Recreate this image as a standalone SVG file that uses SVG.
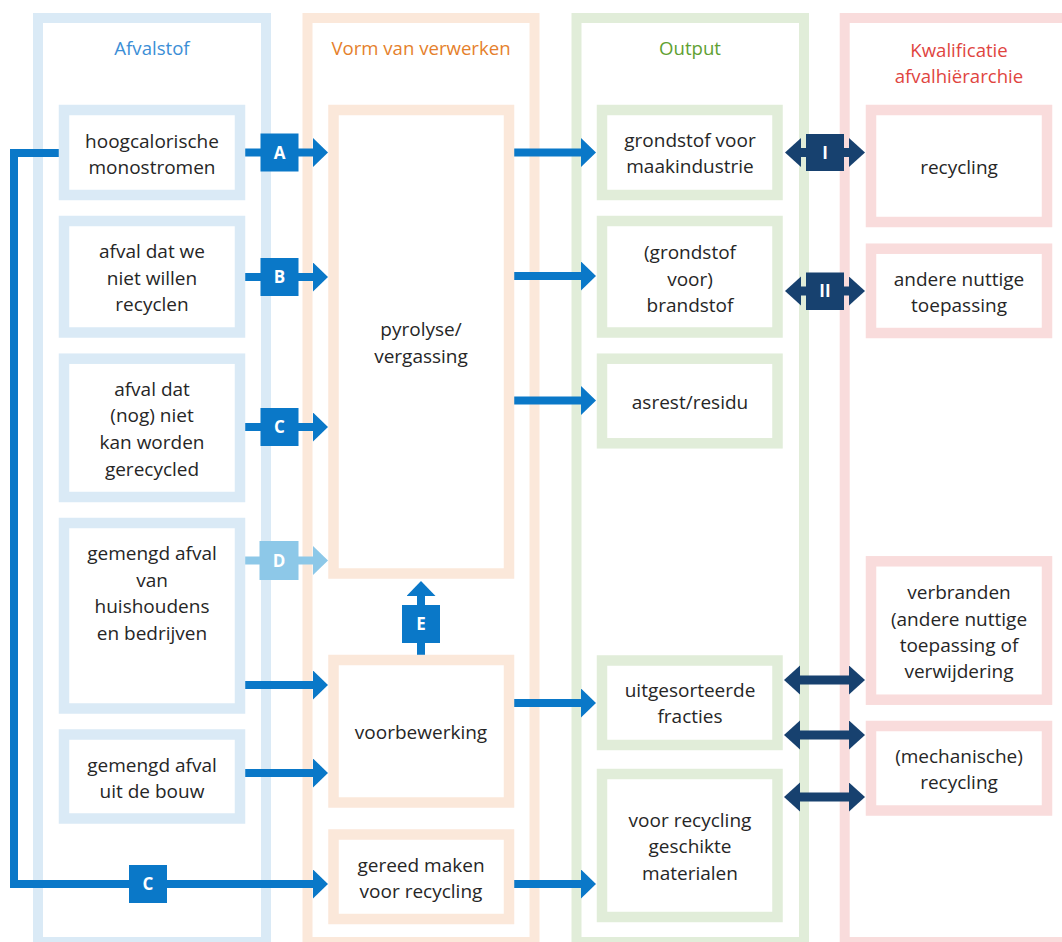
<svg xmlns="http://www.w3.org/2000/svg" width="1062" height="942" viewBox="0 0 1062 942">
<style>
.col{fill:none;stroke-width:10}
.cb{stroke:#daeaf6}.co{stroke:#fbe8da}.cg{stroke:#e1edd9}.cp{stroke:#f9dcdc}
.bx{fill:#fff;stroke-width:10.5}
.t{font-family:"Open Sans","Noto Sans","Liberation Sans",sans-serif;font-size:19px;fill:#262626;text-anchor:middle}
.h{font-family:"Open Sans","Noto Sans","Liberation Sans",sans-serif;font-size:18.6px;text-anchor:middle}
.lb{font-family:"Open Sans","Noto Sans","Liberation Sans",sans-serif;font-size:17px;font-weight:bold;fill:#fff;text-anchor:middle}
.ab{fill:none;stroke:#0a78c8;stroke-width:8}
.ad{fill:none;stroke:#8dc8e8;stroke-width:8}
.an{fill:none;stroke:#17416f;stroke-width:9}
</style>
<defs>
<marker id="hb" markerUnits="userSpaceOnUse" markerWidth="16" markerHeight="30" refX="1" refY="14.5" orient="auto"><path d="M0,0 L15,14.5 L0,29 Z" fill="#0a78c8"/></marker>
<marker id="hd" markerUnits="userSpaceOnUse" markerWidth="16" markerHeight="30" refX="1" refY="14.5" orient="auto"><path d="M0,0 L15,14.5 L0,29 Z" fill="#8dc8e8"/></marker>
<marker id="hn" markerUnits="userSpaceOnUse" markerWidth="17" markerHeight="30" refX="1" refY="14.5" orient="auto-start-reverse"><path d="M0,0 L16,14.5 L0,29 Z" fill="#17416f"/></marker>
</defs>

<g id="columns">
<rect class="col cb" x="38" y="18" width="228" height="924"/>
<rect class="col co" x="307.5" y="18" width="227" height="924"/>
<rect class="col cg" x="576.5" y="18" width="227.5" height="924"/>
<rect class="col cp" x="844.7" y="18" width="228" height="924"/>
<text class="h" x="152" y="55" fill="#3b8ed6">Afvalstof</text>
<text class="h" x="421" y="55" fill="#e57f2c">Vorm van verwerken</text>
<text class="h" x="690" y="55" fill="#5fa133">Output</text>
<text class="h" x="959" y="57" fill="#e0453f">Kwalificatie</text>
<text class="h" x="959" y="83" fill="#e0453f">afvalhiërarchie</text>
</g>

<g id="connectors">
<polyline class="ab" points="59,153 14,153 14,884 314,884" marker-end="url(#hb)"/>
<line class="ab" x1="245" y1="152.5" x2="314" y2="152.5" marker-end="url(#hb)"/>
<line class="ab" x1="245" y1="277" x2="314" y2="277" marker-end="url(#hb)"/>
<line class="ab" x1="245" y1="427" x2="314" y2="427" marker-end="url(#hb)"/>
<line class="ad" x1="245" y1="560.5" x2="314" y2="560.5" marker-end="url(#hd)"/>
<line class="ab" x1="245" y1="685" x2="314" y2="685" marker-end="url(#hb)"/>
<line class="ab" x1="245" y1="773" x2="314" y2="773" marker-end="url(#hb)"/>
<line class="ab" x1="421" y1="655" x2="421" y2="595" marker-end="url(#hb)"/>
<line class="ab" x1="514" y1="152.5" x2="582" y2="152.5" marker-end="url(#hb)"/>
<line class="ab" x1="514" y1="276" x2="582" y2="276" marker-end="url(#hb)"/>
<line class="ab" x1="514" y1="400.5" x2="582" y2="400.5" marker-end="url(#hb)"/>
<line class="ab" x1="514" y1="703" x2="582" y2="703" marker-end="url(#hb)"/>
<line class="ab" x1="514" y1="884" x2="582" y2="884" marker-end="url(#hb)"/>
<line class="an" x1="800" y1="152.5" x2="850" y2="152.5" marker-start="url(#hn)" marker-end="url(#hn)"/>
<line class="an" x1="800" y1="291" x2="850" y2="291" marker-start="url(#hn)" marker-end="url(#hn)"/>
<line class="an" x1="799" y1="680" x2="850" y2="680" marker-start="url(#hn)" marker-end="url(#hn)"/>
<line class="an" x1="799" y1="735" x2="850" y2="735" marker-start="url(#hn)" marker-end="url(#hn)"/>
<line class="an" x1="799" y1="797" x2="850" y2="797" marker-start="url(#hn)" marker-end="url(#hn)"/>
<rect x="260.5" y="133.5" width="38" height="38" fill="#0a78c8"/><text class="lb" x="279.5" y="158.5">A</text>
<rect x="260.5" y="258" width="38" height="38" fill="#0a78c8"/><text class="lb" x="279.5" y="283">B</text>
<rect x="260.5" y="408" width="38" height="38" fill="#0a78c8"/><text class="lb" x="279.5" y="433">C</text>
<rect x="259.5" y="541" width="39" height="39" fill="#8dc8e8"/><text class="lb" x="279" y="566.5">D</text>
<rect x="402" y="605" width="38" height="38" fill="#0a78c8"/><text class="lb" x="421" y="630">E</text>
<rect x="129" y="865" width="38" height="38" fill="#0a78c8"/><text class="lb" x="148" y="890">C</text>
<rect x="806" y="134" width="38" height="37" fill="#17416f"/><text class="lb" x="825" y="158.5">I</text>
<rect x="806" y="272.5" width="38" height="37.5" fill="#17416f"/><text class="lb" x="825" y="297">II</text>
</g>

<g id="n-hoog"><rect class="bx cb" x="64" y="110" width="176" height="85"/><text class="t" x="152" y="147.5">hoogcalorische</text><text class="t" x="152" y="174">monostromen</text></g>
<g id="n-afval-we"><rect class="bx cb" x="64" y="221" width="176" height="111.5"/><text class="t" x="152" y="258">afval dat we</text><text class="t" x="152" y="284.5">niet willen</text><text class="t" x="152" y="311">recyclen</text></g>
<g id="n-afval-nog"><rect class="bx cb" x="64" y="358.7" width="176" height="138.3"/><text class="t" x="152" y="395.7">afval dat</text><text class="t" x="152" y="422.3">(nog) niet</text><text class="t" x="152" y="449">kan worden</text><text class="t" x="152" y="475.7">gerecycled</text></g>
<g id="n-gemengd-hh"><rect class="bx cb" x="64" y="523" width="176" height="185.5"/><text class="t" x="152" y="560">gemengd afval</text><text class="t" x="152" y="586.7">van</text><text class="t" x="152" y="613.3">huishoudens</text><text class="t" x="152" y="640">en bedrijven</text></g>
<g id="n-gemengd-bouw"><rect class="bx cb" x="64" y="734.5" width="176" height="84"/><text class="t" x="152" y="771.7">gemengd afval</text><text class="t" x="152" y="797.7">uit de bouw</text></g>

<g id="n-pyrolyse"><rect class="bx co" x="333.5" y="110" width="175.5" height="463.5"/><text class="t" x="421" y="336">pyrolyse/</text><text class="t" x="421" y="362.5">vergassing</text></g>
<g id="n-voorbewerking"><rect class="bx co" x="333.5" y="660" width="175.5" height="142.5"/><text class="t" x="421" y="739">voorbewerking</text></g>
<g id="n-gereed"><rect class="bx co" x="333.5" y="834.5" width="175.5" height="84.5"/><text class="t" x="421" y="871.7">gereed maken</text><text class="t" x="421" y="898.3">voor recycling</text></g>

<g id="n-grondstof"><rect class="bx cg" x="602" y="110" width="175.5" height="85"/><text class="t" x="690" y="146.7">grondstof voor</text><text class="t" x="690" y="173.3">maakindustrie</text></g>
<g id="n-brandstof"><rect class="bx cg" x="602" y="221" width="175.5" height="111.5"/><text class="t" x="690" y="259.3">(grondstof</text><text class="t" x="690" y="286">voor)</text><text class="t" x="690" y="311.7">brandstof</text></g>
<g id="n-asrest"><rect class="bx cg" x="602" y="358.7" width="175.5" height="84.6"/><text class="t" x="690" y="409.3">asrest/residu</text></g>
<g id="n-uitgesorteerd"><rect class="bx cg" x="602" y="660.5" width="175.5" height="84.5"/><text class="t" x="690" y="696.7">uitgesorteerde</text><text class="t" x="690" y="723.3">fracties</text></g>
<g id="n-geschikt"><rect class="bx cg" x="602" y="774" width="175.5" height="143"/><text class="t" x="690" y="826.7">voor recycling</text><text class="t" x="690" y="853.3">geschikte</text><text class="t" x="690" y="880">materialen</text></g>

<g id="n-recycling"><rect class="bx cp" x="871" y="110" width="176" height="112"/><text class="t" x="959" y="173.5">recycling</text></g>
<g id="n-andere"><rect class="bx cp" x="871" y="248.7" width="176" height="84.3"/><text class="t" x="959" y="286">andere nuttige</text><text class="t" x="959" y="312">toepassing</text></g>
<g id="n-verbranden"><rect class="bx cp" x="871" y="561.3" width="176" height="138.4"/><text class="t" x="959" y="599.3">verbranden</text><text class="t" x="959" y="626">(andere nuttige</text><text class="t" x="959" y="652.3">toepassing of</text><text class="t" x="959" y="678.3">verwijdering</text></g>
<g id="n-mechanisch"><rect class="bx cp" x="871" y="726" width="176" height="84.5"/><text class="t" x="959" y="763.3">(mechanische)</text><text class="t" x="959" y="789.3">recycling</text></g>
</svg>
